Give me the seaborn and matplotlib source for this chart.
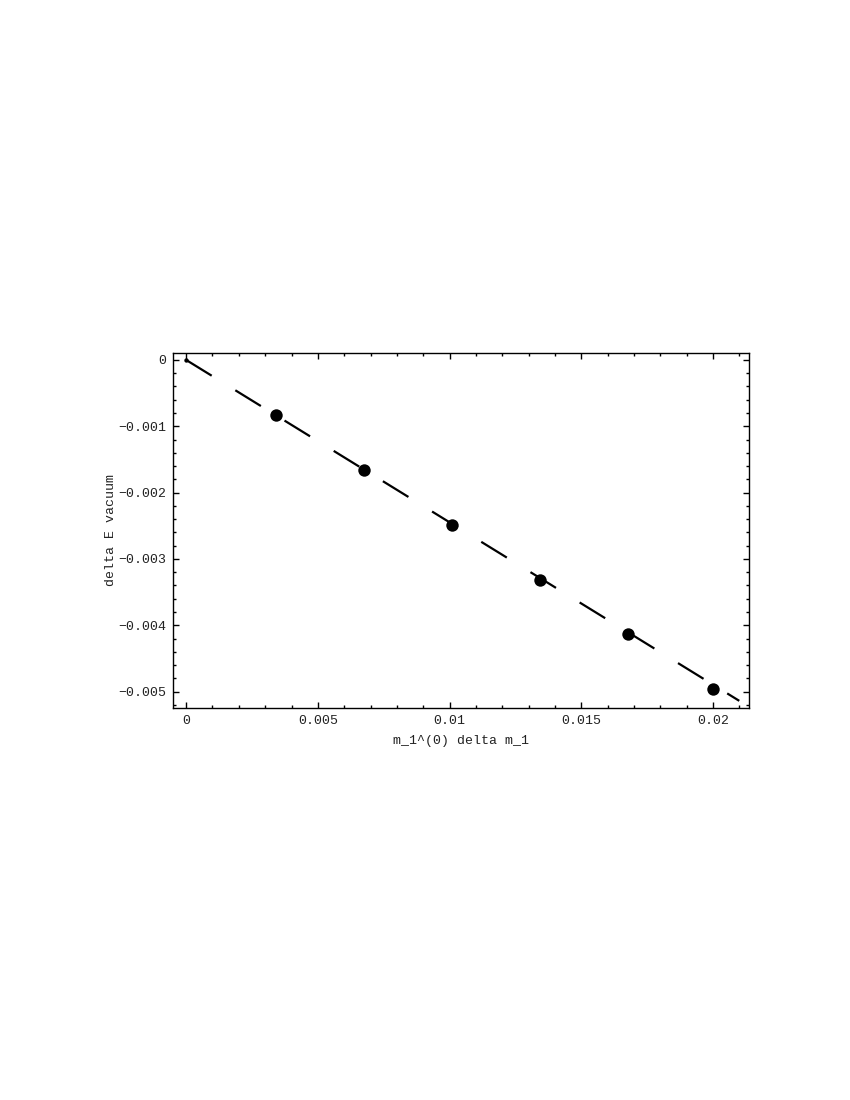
import numpy as np
import pandas as pd
import matplotlib
matplotlib.use('Agg')
import matplotlib.pyplot as plt
from matplotlib.ticker import MultipleLocator, FuncFormatter
import seaborn as sns

# data
x_points = [0.00341, 0.00676, 0.01010, 0.01344, 0.01676, 0.02000]
y_points = [-0.00083, -0.00166, -0.00249, -0.00332, -0.00413, -0.00496]
line_x = [0.0, 0.0210]
line_y = [0.0, -0.00514]
x_ticks = [0, 0.005, 0.01, 0.015, 0.02]
y_ticks = [0, -0.001, -0.002, -0.003, -0.004, -0.005]

sns.set_theme(style='ticks')
plt.rcParams['font.family'] = ['Liberation Mono', 'DejaVu Sans Mono']

fig = plt.figure(figsize=(8.5, 11), dpi=100)
ax = fig.add_axes([0.2035, 0.3566, 0.6777, 0.3228])

# fitted line, long dashes
sns.lineplot(x=line_x, y=line_y, ax=ax, color='black', linewidth=1.6,
             linestyle=(0, (13.5, 12.5)))
# origin dot
sns.scatterplot(x=[0.0], y=[0.0], ax=ax, color='black', s=10, linewidth=0)
# data points
df = pd.DataFrame({'x': x_points, 'y': y_points})
sns.scatterplot(data=df, x='x', y='y', ax=ax, color='black', s=80,
                linewidth=0, zorder=3)

ax.set_xlim(-0.0005, 0.02137)
ax.set_ylim(-0.005244, 0.00011)

ax.set_xticks(x_ticks)
ax.set_yticks(y_ticks)
ax.xaxis.set_minor_locator(MultipleLocator(0.001))
ax.yaxis.set_minor_locator(MultipleLocator(0.0002))

fmt = lambda v, pos: '0' if abs(v) < 1e-12 else ('%g' % v).replace('-', '\u2212')
ax.xaxis.set_major_formatter(FuncFormatter(fmt))
ax.yaxis.set_major_formatter(FuncFormatter(fmt))

ax.tick_params(which='both', direction='in', top=True, right=True,
               labeltop=False, labelright=False, color='black',
               labelsize=9.5, labelcolor='#222222', width=1.0)
ax.tick_params(which='major', length=4.5, pad=5)
ax.tick_params(which='minor', length=2.5)

for sp in ax.spines.values():
    sp.set_visible(True)
    sp.set_linewidth(1.0)
    sp.set_color('black')

ax.set_xlabel('m_1^(0) delta m_1', fontsize=9.5, color='#222222', labelpad=6)
ax.set_ylabel('delta E vacuum', fontsize=9.5, color='#222222', labelpad=0.5)

fig.savefig('out.png', dpi=100, facecolor='white')
